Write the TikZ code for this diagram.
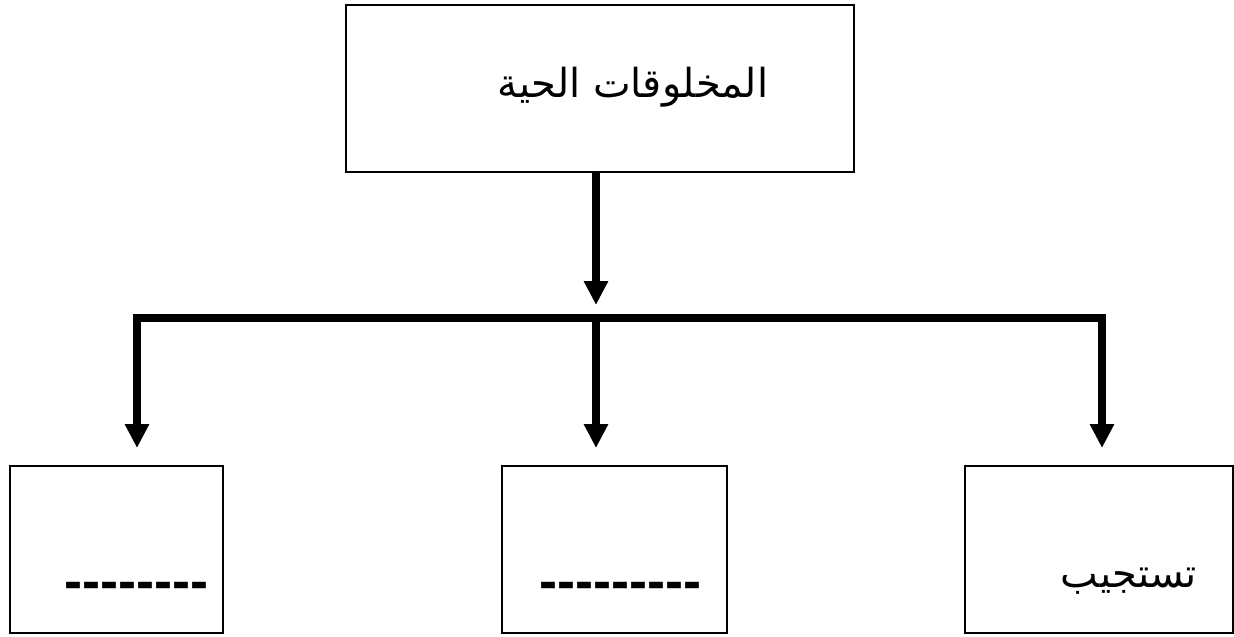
\documentclass[tikz,border=0pt]{standalone}
\usepackage{fontspec}
\usetikzlibrary{arrows.meta}
\TeXXeTstate=1
\newfontfamily\arabicfont[Script=Arabic]{DejaVu Sans}
\newfontfamily\dashfont{Liberation Sans}
\newcommand{\hy}{-\kern0pt}
\begin{document}
\begin{tikzpicture}[x=1pt,y=-1pt,
  box/.style={draw,line width=2.4pt,inner sep=0pt},
  conn/.style={line width=7.5pt},
  arr/.style={conn,-{Triangle[width=23pt,length=24pt]}},
  artext/.style={font=\arabicfont\fontsize{40}{46}\selectfont,inner sep=0pt,anchor=base},
  dashtext/.style={font=\dashfont\bfseries\fontsize{54}{60}\selectfont,inner sep=0pt,anchor=base}]
\useasboundingbox[fill=white] (0,0) rectangle (1234,637);
% boxes
\node[box,minimum width=508pt,minimum height=167pt,anchor=north west] (top) at (345,4) {};
\node[box,minimum width=213pt,minimum height=167pt,anchor=north west] (lb) at (9,465) {};
\node[box,minimum width=225pt,minimum height=167pt,anchor=north west] (mb) at (501,465) {};
\node[box,minimum width=268pt,minimum height=167pt,anchor=north west] (rb) at (964,465) {};
% texts
\node[artext] (toptext) at (633,97) {\beginR المخلوقات الحية\endR};
\node[artext] (rtext) at (1129,587) {\beginR تستجيب\endR};
\node[dashtext] (ldash) at (136.5,599) {\hy\hy\hy\hy\hy\hy\hy\hy};
\node[dashtext] (mdash) at (620.5,599) {\hy\hy\hy\hy\hy\hy\hy\hy\hy};
% connectors
\coordinate (hub) at (596,318);
\coordinate (hl) at (137,318);
\coordinate (hr) at (1102,318);
\coordinate (ttop) at (596,305);
\coordinate (tl) at (137,448);
\coordinate (tm) at (596,448);
\coordinate (tr) at (1102,448);
\draw[arr] (top.south -| hub) -- (ttop);
\draw[conn,line cap=rect] (hl) -- (hr);
\draw[arr] (hl) -- (tl);
\draw[arr] (hub) -- (tm);
\draw[arr] (hr) -- (tr);
\end{tikzpicture}
\end{document}
